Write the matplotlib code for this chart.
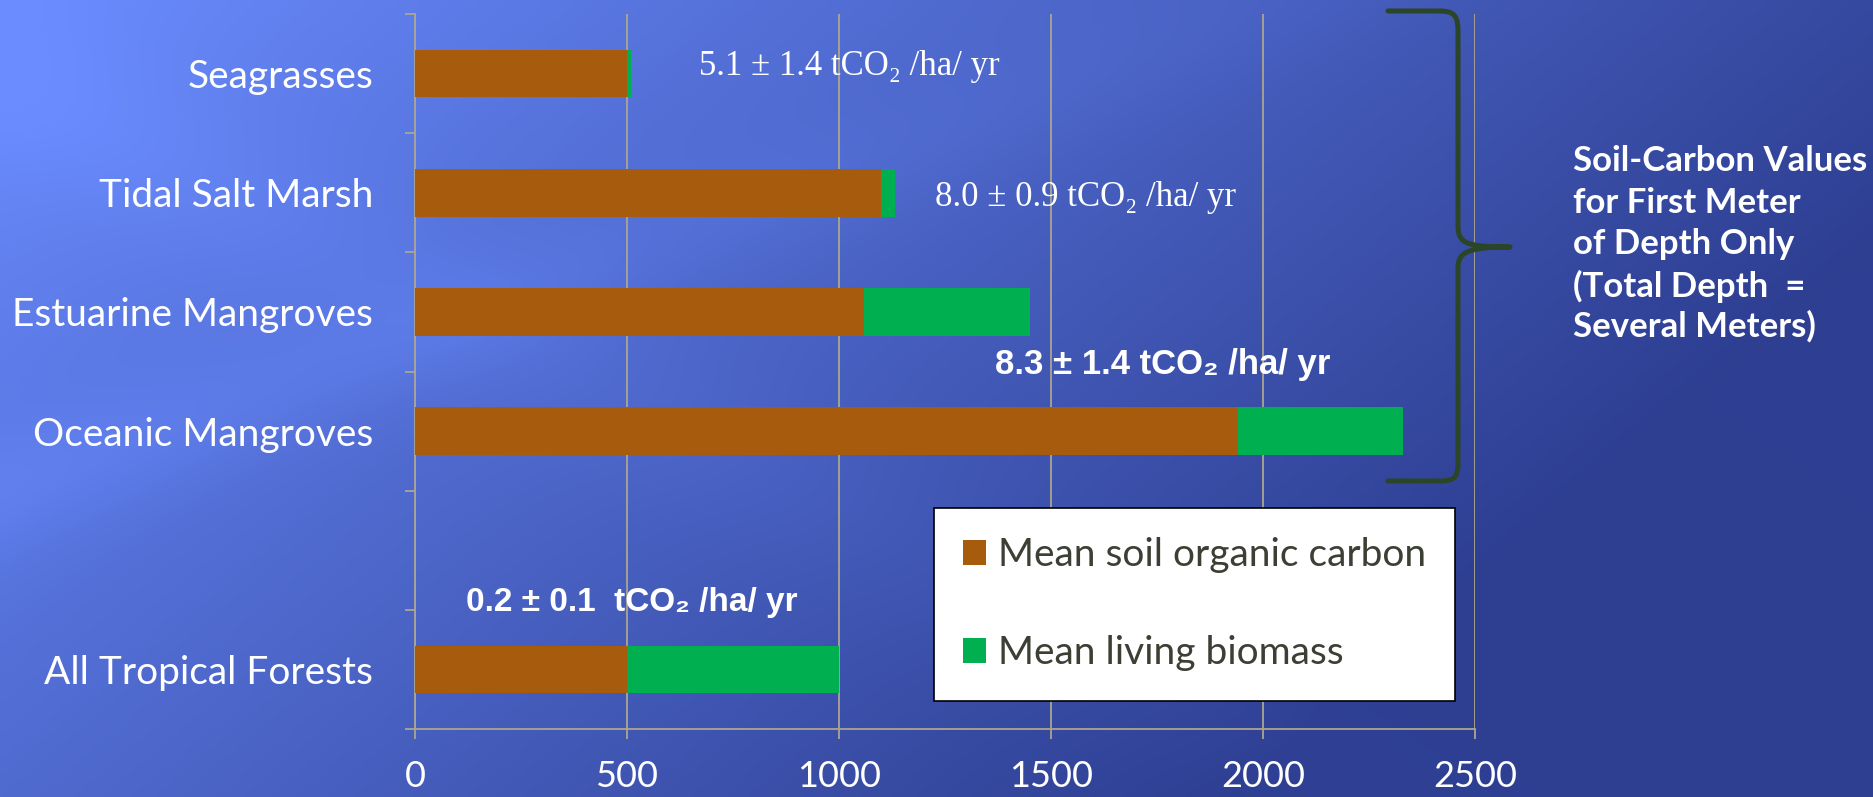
import numpy as np
import matplotlib
matplotlib.use("Agg")
import matplotlib.pyplot as plt
from matplotlib.patches import Patch, PathPatch
from matplotlib.path import Path
from matplotlib import font_manager

# ---------------- data ----------------
categories = ["Seagrasses", "Tidal Salt Marsh", "Estuarine Mangroves",
              "Oceanic Mangroves", "", "All Tropical Forests"]
soil_carbon = [500, 1100, 1060, 1940, 0, 500]
living_biomass = [10, 33, 390, 390, 0, 500]
series_names = ["Mean soil organic carbon", "Mean living biomass"]
x_ticks = [0, 500, 1000, 1500, 2000, 2500]
rate_labels = ["5.1 \u00b1 1.4 tCO\u2082 /ha/ yr",
               "8.0 \u00b1 0.9 tCO\u2082 /ha/ yr",
               "8.3 \u00b1 1.4 tCO\u2082 /ha/ yr",
               "0.2 \u00b1 0.1  tCO\u2082 /ha/ yr"]
note_lines = ["Soil-Carbon Values", "for First Meter", "of Depth Only",
              "(Total Depth  =", "Several Meters)"]

# ---------------- styling ----------------
W, H = 1874, 797
BROWN = "#A65C0C"
GREEN = "#00B050"
GRIDC = "#ACA58F"
BRACE = "#2B4528"

names = {f.name for f in font_manager.fontManager.ttflist}
NARROW = "Liberation Sans Narrow" if "Liberation Sans Narrow" in names else "Liberation Sans"
SANS = "Lato" if "Lato" in names else "DejaVu Sans"

fig = plt.figure(figsize=(W / 100, H / 100), dpi=100)

# background gradient
bg = fig.add_axes([0, 0, 1, 1], zorder=-10)
xs = np.linspace(0, 1, 400)
ys = np.linspace(0, 1, 200)
X, Y = np.meshgrid(xs, ys)
t = (X + 0.5 * Y) / 1.5
f = np.clip(t * 1.3, 0, 1) ** 1.0
d = (X * 0.9 + Y * 1.0 - 0.62)
f = f - 0.12 * np.exp(-(d / 0.08) ** 2) * (1 - X)
d2 = (X * 0.6 - Y * 0.5 + 0.05)
f = f - 0.08 * np.exp(-(d2 / 0.06) ** 2) * (1 - X)
f = np.clip(f, 0, 1)
L = np.array([106, 140, 255]) / 255
D = np.array([46, 63, 146]) / 255
img = L[None, None, :] + (D - L)[None, None, :] * f[..., None]
bg.imshow(img, aspect="auto", extent=[0, 1, 1, 0], interpolation="bicubic")
bg.set_xlim(0, 1)
bg.set_ylim(1, 0)
bg.axis("off")

# main axes
ax = fig.add_axes([415 / W, 1 - 729 / H, 1060 / W, (729 - 14) / H])
ax.set_facecolor("none")
ypos = np.arange(len(categories))
ax.barh(ypos, soil_carbon, height=0.4, color=BROWN, label=series_names[0], zorder=3)
ax.barh(ypos, living_biomass, left=soil_carbon, height=0.4, color=GREEN,
        label=series_names[1], zorder=3)
ax.set_xlim(0, 2500)
ax.set_ylim(len(categories) - 0.5, -0.5)
ax.set_xticks(x_ticks)
ax.set_xticklabels([str(v) for v in x_ticks])
ax.set_yticks(ypos)
ax.set_yticklabels(categories)
ax.set_yticks(np.arange(-0.5, len(categories), 1.0), minor=True)
ax.tick_params(axis="y", which="major", length=0, pad=30, labelsize=28,
               labelcolor="white")
ax.tick_params(axis="y", which="minor", length=7, width=1.3, color=GRIDC)
ax.tick_params(axis="x", length=7, width=1.3, color=GRIDC, pad=15,
               labelsize=26, labelcolor="white")
for lab in ax.get_xticklabels() + ax.get_yticklabels():
    lab.set_family(SANS)
ax.grid(axis="x", color=GRIDC, lw=1.3, zorder=0)
ax.set_axisbelow(True)
for s in ["top", "right"]:
    ax.spines[s].set_visible(False)
for s in ["left", "bottom"]:
    ax.spines[s].set_color(GRIDC)
    ax.spines[s].set_linewidth(1.3)

# rate annotations
serif_fam = ["Liberation Serif", "DejaVu Serif"]
narrow_fam = [NARROW, "DejaVu Sans"]
ax.text(670, -0.06, rate_labels[0], ha="left", va="center", color="white",
        fontsize=25, family=serif_fam, zorder=5)
ax.text(1226, 1.04, rate_labels[1], ha="left", va="center", color="white",
        fontsize=25, family=serif_fam, zorder=5)
ax.text(1368, 2.44, rate_labels[2], ha="left", va="center", color="white",
        fontsize=25, family=narrow_fam, fontweight="bold", zorder=5)
ax.text(120, 4.44, rate_labels[3], ha="left", va="center", color="white",
        fontsize=24, family=narrow_fam, fontweight="bold", zorder=5)

# legend
handles = [Patch(facecolor=BROWN, edgecolor="none", label=series_names[0]),
           Patch(facecolor=GREEN, edgecolor="none", label=series_names[1])]
leg = ax.legend(handles=handles, loc="upper left",
                bbox_to_anchor=(934 / W, 1 - 508 / H),
                bbox_transform=fig.transFigure,
                frameon=True, fancybox=False, framealpha=1,
                edgecolor="black", facecolor="white",
                prop={"family": SANS, "size": 28},
                handlelength=0.6, handleheight=0.6, handletextpad=0.3,
                labelspacing=1.6, borderpad=0.75, borderaxespad=0)
leg.get_frame().set_linewidth(1.2)
for txt in leg.get_texts():
    txt.set_color("#3C4034")
leg.set_zorder(6)

# brace (decorative, figure pixel coordinates)
def P(x, y):
    return (x / W, 1 - y / H)

verts = [P(1388, 11), P(1440, 11),
         P(1456, 11), P(1458, 18), P(1458, 32),
         P(1458, 226),
         P(1458, 244), P(1468, 247), P(1510, 247),
         P(1468, 247), P(1458, 252), P(1458, 268),
         P(1458, 462),
         P(1458, 476), P(1456, 481), P(1440, 481),
         P(1388, 481)]
codes = [Path.MOVETO, Path.LINETO,
         Path.CURVE4, Path.CURVE4, Path.CURVE4,
         Path.LINETO,
         Path.CURVE4, Path.CURVE4, Path.CURVE4,
         Path.CURVE4, Path.CURVE4, Path.CURVE4,
         Path.LINETO,
         Path.CURVE4, Path.CURVE4, Path.CURVE4,
         Path.LINETO]
brace = PathPatch(Path(verts, codes), transform=fig.transFigure,
                  facecolor="none", edgecolor=BRACE, lw=3.6,
                  capstyle="round", joinstyle="round", zorder=7)
fig.patches.append(brace)

# right-hand note
line_y = [161, 203, 244, 286, 326]
for txt, yy in zip(note_lines, line_y):
    fig.text(1573 / W, 1 - yy / H, txt, ha="left", va="center",
             color="white", fontsize=25, fontweight="bold", family=SANS)

fig.savefig("out.png", dpi=100)
